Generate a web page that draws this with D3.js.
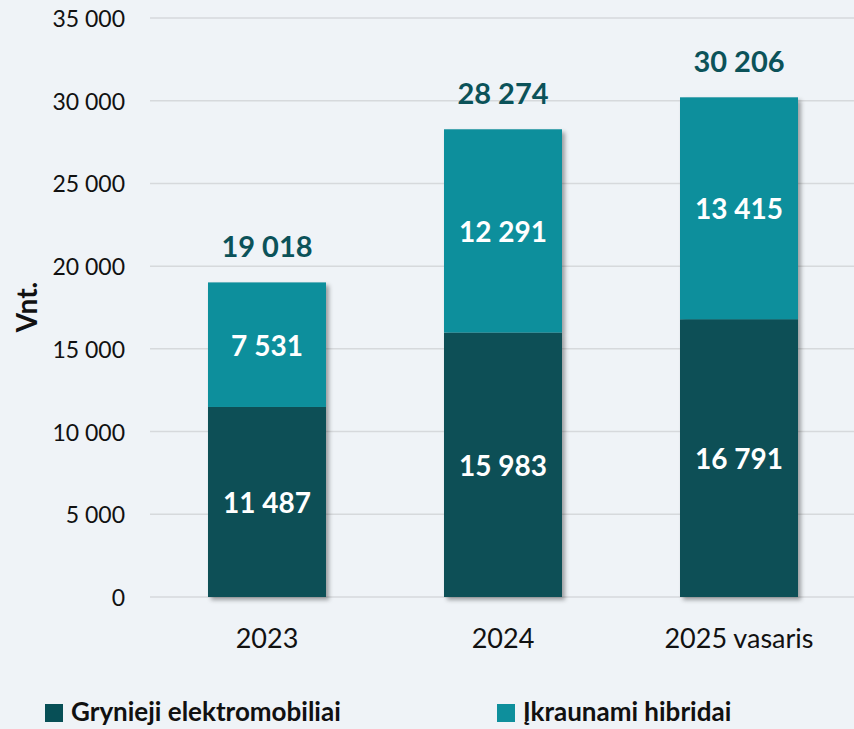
<!DOCTYPE html>
<html>
<head>
<meta charset="utf-8">
<script src="https://cdn.jsdelivr.net/npm/d3@7"></script>
<style>
  html, body { margin: 0; padding: 0; background: #eff3f7; }
  svg { display: block; font-family: Lato, "Open Sans", sans-serif; }
</style>
</head>
<body>
<div id="chart"></div>
<script>
// Stacked columns: pure EVs and plug-in hybrids by year.
const categories = ["2023", "2024", "2025 vasaris"];
const bev = [11487, 15983, 16791];
const phev = [7531, 12291, 13415];
const totals = [19018, 28274, 30206];
const yTicks = [0, 5000, 10000, 15000, 20000, 25000, 30000, 35000];
const seriesNames = ["Grynieji elektromobiliai", "Įkraunami hibridai"];

const colors = { bev: "#074f56", phev: "#0e8f9c", total: "#0b5259", grid: "#d6d9dc" };
const width = 854, height = 729;
const fmt = (v) => d3.format(",")(v).replace(/,/g, " ");

const x = d3.scaleBand().domain(categories).range([149, 857]).paddingInner(0.5).paddingOuter(0.25);
const y = d3.scaleLinear().domain([0, 35000]).range([597, 18]);

const svg = d3.select("#chart").append("svg")
  .attr("width", width).attr("height", height)
  .attr("viewBox", `0 0 ${width} ${height}`);

const defs = svg.append("defs");
defs.append("filter").attr("id", "shadow")
  .attr("x", "-10%").attr("y", "-10%").attr("width", "130%").attr("height", "130%")
  .append("feDropShadow")
  .attr("dx", 3).attr("dy", 3).attr("stdDeviation", 2)
  .attr("flood-color", "#000").attr("flood-opacity", 0.35);

// gridlines and tick labels
const grid = svg.append("g").selectAll("g").data(yTicks).join("g");
grid.append("line")
  .attr("x1", 150).attr("x2", width)
  .attr("y1", (d) => y(d)).attr("y2", (d) => y(d))
  .attr("stroke", colors.grid).attr("stroke-width", 1.5);
grid.append("text")
  .attr("x", 125).attr("y", (d) => y(d))
  .attr("text-anchor", "end").attr("dominant-baseline", "central")
  .attr("font-size", 23).attr("fill", "#111")
  .text((d) => fmt(d));

svg.append("text")
  .attr("transform", `translate(26,307) rotate(-90)`)
  .attr("text-anchor", "middle").attr("dominant-baseline", "central")
  .attr("font-size", 28).attr("font-weight", 700).attr("fill", "#111")
  .text("Vnt.");

const rows = categories.map((c, i) => ({ c, bev: bev[i], phev: phev[i], total: totals[i] }));
const col = svg.append("g").selectAll("g").data(rows).join("g");

const bars = col.append("g").attr("filter", "url(#shadow)");
bars.append("rect")
  .attr("x", (d) => x(d.c)).attr("width", x.bandwidth())
  .attr("y", (d) => y(d.bev)).attr("height", (d) => y(0) - y(d.bev))
  .attr("fill", colors.bev);
bars.append("rect")
  .attr("x", (d) => x(d.c)).attr("width", x.bandwidth())
  .attr("y", (d) => y(d.bev + d.phev)).attr("height", (d) => y(d.bev) - y(d.bev + d.phev))
  .attr("fill", colors.phev);

col.append("text")
  .attr("x", (d) => x(d.c) + x.bandwidth() / 2)
  .attr("y", (d) => (y(0) + y(d.bev)) / 2)
  .attr("text-anchor", "middle").attr("dominant-baseline", "central")
  .attr("font-size", 28).attr("font-weight", 700).attr("fill", "#fff")
  .text((d) => fmt(d.bev));
col.append("text")
  .attr("x", (d) => x(d.c) + x.bandwidth() / 2)
  .attr("y", (d) => (y(d.bev) + y(d.bev + d.phev)) / 2)
  .attr("text-anchor", "middle").attr("dominant-baseline", "central")
  .attr("font-size", 28).attr("font-weight", 700).attr("fill", "#fff")
  .text((d) => fmt(d.phev));
col.append("text")
  .attr("x", (d) => x(d.c) + x.bandwidth() / 2)
  .attr("y", (d) => y(d.total) - 37)
  .attr("text-anchor", "middle").attr("dominant-baseline", "central")
  .attr("font-size", 29).attr("font-weight", 700).attr("fill", colors.total)
  .text((d) => fmt(d.total));

col.append("text")
  .attr("x", (d) => x(d.c) + x.bandwidth() / 2)
  .attr("y", 637)
  .attr("text-anchor", "middle").attr("dominant-baseline", "central")
  .attr("font-size", 27).attr("fill", "#111")
  .text((d) => d.c);

// legend
const legendX = [45, 497];
const legendColors = [colors.bev, colors.phev];
const lg = svg.append("g").selectAll("g").data(seriesNames).join("g")
  .attr("transform", (d, i) => `translate(${legendX[i]},704)`);
lg.append("rect").attr("width", 18).attr("height", 18).attr("fill", (d, i) => legendColors[i]);
lg.append("text")
  .attr("x", 26).attr("y", 17)
  .attr("font-size", 26).attr("font-weight", 700).attr("fill", "#111")
  .text((d) => d);
</script>
</body>
</html>
